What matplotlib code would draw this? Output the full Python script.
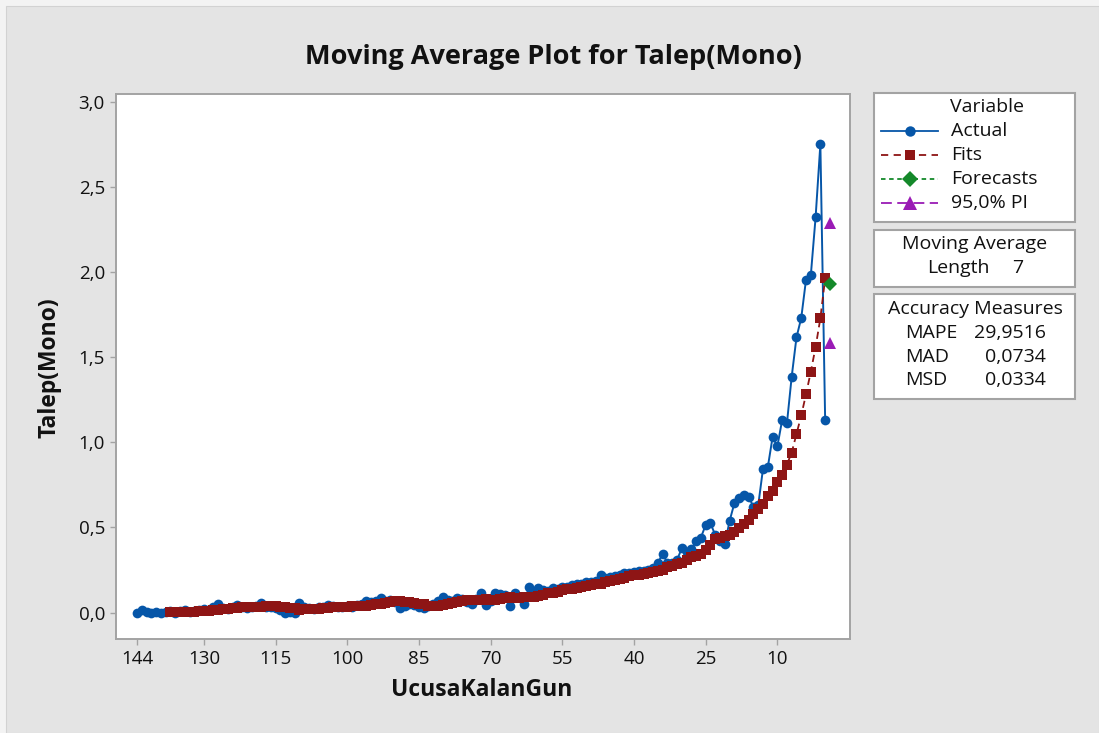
import matplotlib
matplotlib.use("Agg")
import matplotlib.pyplot as plt
from matplotlib.patches import Rectangle
from matplotlib.lines import Line2D

plt.rcParams['font.family'] = ['Open Sans', 'DejaVu Sans']

# Demand (Talep, Mono) by period; UcusaKalanGun runs 144 down to 0
actual = [
    0.000, 0.015, 0.005, 0.000, 0.002, 0.000, 0.003, 0.010, 0.000, 0.008,
    0.012, 0.005, 0.010, 0.015, 0.020, 0.012, 0.030, 0.048, 0.025, 0.020,
    0.030, 0.044, 0.030, 0.025, 0.035, 0.040, 0.058, 0.035, 0.030, 0.025,
    0.015, 0.000, 0.005, 0.000, 0.058, 0.030, 0.025, 0.020, 0.030, 0.035,
    0.044, 0.040, 0.030, 0.035, 0.040, 0.030, 0.045, 0.050, 0.068, 0.060,
    0.070, 0.083, 0.070, 0.075, 0.060, 0.025, 0.040, 0.050, 0.045, 0.035,
    0.025, 0.040, 0.050, 0.070, 0.093, 0.075, 0.070, 0.083, 0.080, 0.060,
    0.050, 0.080, 0.116, 0.044, 0.070, 0.116, 0.110, 0.100, 0.038, 0.116,
    0.090, 0.050, 0.148, 0.120, 0.142, 0.130, 0.125, 0.142, 0.140, 0.151,
    0.150, 0.161, 0.165, 0.170, 0.181, 0.178, 0.185, 0.220, 0.205, 0.210,
    0.215, 0.222, 0.230, 0.232, 0.238, 0.245, 0.245, 0.250, 0.262, 0.290,
    0.346, 0.290, 0.290, 0.308, 0.377, 0.357, 0.370, 0.420, 0.440, 0.514,
    0.524, 0.455, 0.420, 0.400, 0.537, 0.641, 0.670, 0.690, 0.680, 0.620,
    0.630, 0.845, 0.853, 1.030, 0.975, 1.130, 1.110, 1.385, 1.615, 1.730,
    1.955, 1.980, 2.320, 2.750, 1.130,
]

# Moving-average fits (length 7), first fit at period 8
fits = [
    0.004, 0.005, 0.003, 0.003, 0.005, 0.005, 0.007, 0.009, 0.010, 0.012,
    0.015, 0.020, 0.023, 0.024, 0.026, 0.030, 0.032, 0.032, 0.030, 0.032,
    0.037, 0.038, 0.036, 0.035, 0.034, 0.029, 0.024, 0.016, 0.019, 0.019,
    0.019, 0.020, 0.024, 0.028, 0.035, 0.032, 0.032, 0.033, 0.036, 0.036,
    0.038, 0.039, 0.043, 0.047, 0.052, 0.058, 0.064, 0.068, 0.069, 0.063,
    0.060, 0.058, 0.052, 0.047, 0.040, 0.037, 0.041, 0.045, 0.051, 0.055,
    0.060, 0.069, 0.074, 0.076, 0.073, 0.071, 0.077, 0.073, 0.071, 0.077,
    0.084, 0.091, 0.085, 0.085, 0.091, 0.089, 0.093, 0.095, 0.101, 0.114,
    0.115, 0.122, 0.135, 0.136, 0.140, 0.143, 0.148, 0.154, 0.160, 0.165,
    0.170, 0.180, 0.186, 0.193, 0.199, 0.205, 0.212, 0.219, 0.222, 0.227,
    0.232, 0.237, 0.243, 0.252, 0.268, 0.275, 0.282, 0.291, 0.309, 0.323,
    0.334, 0.345, 0.366, 0.398, 0.429, 0.440, 0.449, 0.453, 0.470, 0.499,
    0.521, 0.545, 0.577, 0.605, 0.638, 0.682, 0.713, 0.764, 0.805, 0.869,
    0.939, 1.047, 1.157, 1.282, 1.414, 1.558, 1.728, 1.962,
]
fit_start = 8

forecast = [1.926]
pi_lower = [1.580]
pi_upper = [2.290]

tick_periods = [1, 15, 30, 45, 60, 75, 90, 105, 120, 135]
tick_labels = ["144", "130", "115", "100", "85", "70", "55", "40", "25", "10"]
y_ticks = [0.0, 0.5, 1.0, 1.5, 2.0, 2.5, 3.0]
y_tick_labels = ["0,0", "0,5", "1,0", "1,5", "2,0", "2,5", "3,0"]

ma_length = 7
acc_names = ["MAPE", "MAD", "MSD"]
acc_values = ["29,9516", "0,0734", "0,0334"]

BLUE = '#0656a8'
RED = '#8e1515'
GREEN = '#14892a'
PURPLE = '#9a1bb5'
FRAME_GRAY = '#a3a3a3'
TXT = '#111111'

periods = list(range(1, len(actual) + 1))
fit_periods = list(range(fit_start, fit_start + len(fits)))
fc_period = [len(actual) + 1]

W, H = 1099, 733
fig = plt.figure(figsize=(W / 100, H / 100), dpi=100)
fig.patch.set_facecolor('#f3f3f3')
fig.patches.append(Rectangle((6 / W, 0), 1 - 6 / W, 1 - 6 / H,
                             transform=fig.transFigure, facecolor='#e4e4e4',
                             edgecolor='#d2d2d2', lw=0.8, zorder=-10))

ax = fig.add_axes([116 / W, 1 - 639 / H, (850 - 116) / W, (639 - 94) / H])
ax.set_facecolor('white')

ax.plot(periods, actual, color=BLUE, lw=1.4, marker='o', ms=7.0,
        markeredgewidth=0, zorder=3)
ax.plot(fit_periods, fits, color=RED, lw=1.3, ls=(0, (4, 2.5)), marker='s',
        ms=7.0, markeredgewidth=0, zorder=4)
ax.plot(fc_period, forecast, color=GREEN, ls='none', marker='D', ms=7.5,
        markeredgewidth=0, zorder=5)
ax.plot(fc_period + fc_period, pi_lower + pi_upper, color=PURPLE, ls='none',
        marker='^', ms=8.5, markeredgewidth=0, zorder=5)

ax.set_xlim(-3.39, 150.2)
ax.set_ylim(-0.1556, 3.0446)
ax.set_xticks(tick_periods)
ax.set_xticklabels(tick_labels)
ax.set_yticks(y_ticks)
ax.set_yticklabels(y_tick_labels)
ax.tick_params(axis='both', direction='out', length=4, width=1.0,
               color=FRAME_GRAY, labelsize=13.5, labelcolor=TXT)
ax.tick_params(axis='x', pad=4)
ax.tick_params(axis='y', pad=4)
for s in ax.spines.values():
    s.set_color(FRAME_GRAY)
    s.set_linewidth(1.4)


def px(x, y):
    return x / W, 1 - y / H


fig.text(*px(553, 57), "Moving Average Plot for Talep(Mono)", ha='center',
         va='center', fontsize=19.5, fontweight='bold', color=TXT)
fig.text(*px(50, 368), "Talep(Mono)", ha='center', va='center', rotation=90,
         fontsize=16.5, fontweight='bold', color=TXT)
fig.text(*px(482, 690), "UcusaKalanGun", ha='center', va='center',
         fontsize=16.5, fontweight='bold', color=TXT)

# Side panels: legend, method and accuracy measures
ov = fig.add_axes([0, 0, 1, 1], zorder=10)
ov.set_xlim(0, W)
ov.set_ylim(H, 0)
ov.axis('off')

for (y0, y1) in [(93, 222), (230, 287), (294, 399)]:
    ov.add_patch(Rectangle((874, y0), 1075 - 874, y1 - y0, facecolor='white',
                           edgecolor=FRAME_GRAY, lw=1.5))

FS = 14
ov.text(987, 107, "Variable", ha='center', va='center', fontsize=FS, color=TXT)
entries = [
    ("Actual", BLUE, '-', 'o', 7.5),
    ("Fits", RED, (0, (4, 3)), 's', 7.5),
    ("Forecasts", GREEN, (0, (2.5, 2)), 'D', 8.5),
    ("95,0% PI", PURPLE, (0, (6, 3)), '^', 9.5),
]
for k, (name, col, ls, mk, ms) in enumerate(entries):
    yy = 131 + k * 23.9
    ov.add_line(Line2D([881, 938], [yy, yy], color=col, lw=1.3, ls=ls))
    ov.add_line(Line2D([910], [yy], color=col, marker=mk, ms=ms,
                       markeredgewidth=0, ls='none'))
    ov.text(951, yy, name, ha='left', va='center', fontsize=FS, color=TXT)

ov.text(975, 244, "Moving Average", ha='center', va='center', fontsize=FS,
        color=TXT)
ov.text(927, 268, "Length", ha='left', va='center', fontsize=FS, color=TXT)
ov.text(1018, 268, str(ma_length), ha='center', va='center', fontsize=FS,
        color=TXT)

ov.text(975, 309, "Accuracy Measures", ha='center', va='center', fontsize=FS,
        color=TXT)
for k, (nm, val) in enumerate(zip(acc_names, acc_values)):
    yy = 333 + k * 23.5
    ov.text(905, yy, nm, ha='left', va='center', fontsize=FS, color=TXT)
    ov.text(1046, yy, val, ha='right', va='center', fontsize=FS, color=TXT)

fig.savefig("out.png", dpi=100, facecolor=fig.get_facecolor())
